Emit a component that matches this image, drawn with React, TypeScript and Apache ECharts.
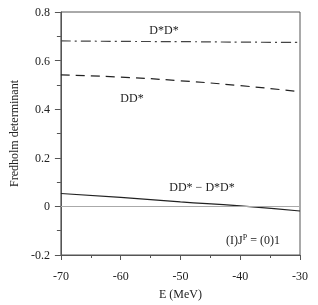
import React, { useEffect, useRef } from "react";
import * as echarts from "echarts";

const energies = [-70, -60, -50, -40, -30];
const dsdsValues = [0.681, 0.679, 0.678, 0.676, 0.675];
const ddsValues = [0.541, 0.532, 0.517, 0.497, 0.472];
const diffValues = [0.053, 0.037, 0.019, 0.002, -0.019];

const FONT = "Liberation Serif";

export default function App() {
  const ref = useRef<HTMLDivElement>(null);
  useEffect(() => {
    if (!ref.current) return;
    const chart = echarts.init(ref.current, null, { renderer: "svg" });
    const pair = (vals: number[]) => energies.map((e, i) => [e, vals[i]]);
    const txt = (text: string, x: number, y: number) => ({
      type: "text",
      x,
      y,
      style: { text, fontFamily: FONT, fontSize: 12, fill: "#222", align: "center", verticalAlign: "middle" },
    });
    chart.setOption({
      animation: false,
      grid: {
        left: 57,
        right: 18,
        top: 12,
        bottom: 50,
        show: true,
        borderColor: "#555",
        borderWidth: 1,
        backgroundColor: "transparent",
      },
      xAxis: {
        type: "value",
        min: -70,
        max: -30,
        interval: 10,
        name: "E (MeV)",
        nameLocation: "middle",
        nameGap: 33,
        nameTextStyle: { fontFamily: FONT, fontSize: 12, color: "#222" },
        axisLine: { show: true, onZero: false, lineStyle: { color: "#555" } },
        axisTick: { show: true, inside: false, length: 5, lineStyle: { color: "#555" } },
        minorTick: { show: true, splitNumber: 2, length: 3, lineStyle: { color: "#555" } },
        axisLabel: { fontFamily: FONT, fontSize: 12, color: "#222", margin: 15 },
        splitLine: { show: false },
      },
      yAxis: {
        type: "value",
        min: -0.2,
        max: 0.8,
        interval: 0.2,
        name: "Fredholm determinant",
        nameLocation: "middle",
        nameGap: 38,
        nameTextStyle: { fontFamily: FONT, fontSize: 12, color: "#222" },
        axisLine: { show: true, onZero: false, lineStyle: { color: "#555" } },
        axisTick: { show: true, inside: false, length: 6, lineStyle: { color: "#555" } },
        minorTick: { show: true, splitNumber: 2, length: 4, lineStyle: { color: "#555" } },
        axisLabel: { fontFamily: FONT, fontSize: 12, color: "#222", margin: 11 },
        splitLine: { show: false },
      },
      series: [
        {
          type: "line",
          data: pair(dsdsValues),
          symbol: "none",
          smooth: true,
          lineStyle: { color: "#444", width: 1.2, type: [10, 4, 2, 4] },
        },
        {
          type: "line",
          data: pair(ddsValues),
          symbol: "none",
          smooth: true,
          lineStyle: { color: "#222", width: 1.2, type: [9, 6] },
        },
        {
          type: "line",
          data: pair(diffValues),
          symbol: "none",
          smooth: true,
          lineStyle: { color: "#222", width: 1.2 },
          markLine: {
            silent: true,
            symbol: "none",
            label: { show: false },
            lineStyle: { color: "#aaa", width: 1.2, type: "solid" },
            data: [{ yAxis: 0 }],
          },
        },
      ],
      graphic: [
        txt("D*D*", 164, 30),
        txt("DD*", 132, 98),
        txt("DD* − D*D*", 202, 187),
        {
          type: "text",
          x: 253,
          y: 240,
          style: {
            text: "(I)J{sup|P} = (0)1",
            fontFamily: FONT,
            fontSize: 12,
            fill: "#222",
            align: "center",
            verticalAlign: "middle",
            rich: {
              sup: { fontFamily: FONT, fontSize: 8, fill: "#222", padding: [0, 0, 6, 0] },
            },
          },
        },
      ],
    });
    return () => chart.dispose();
  }, []);
  return <div ref={ref} style={{ position: "fixed", left: 0, top: 0, width: 318, height: 305 }} />;
}
